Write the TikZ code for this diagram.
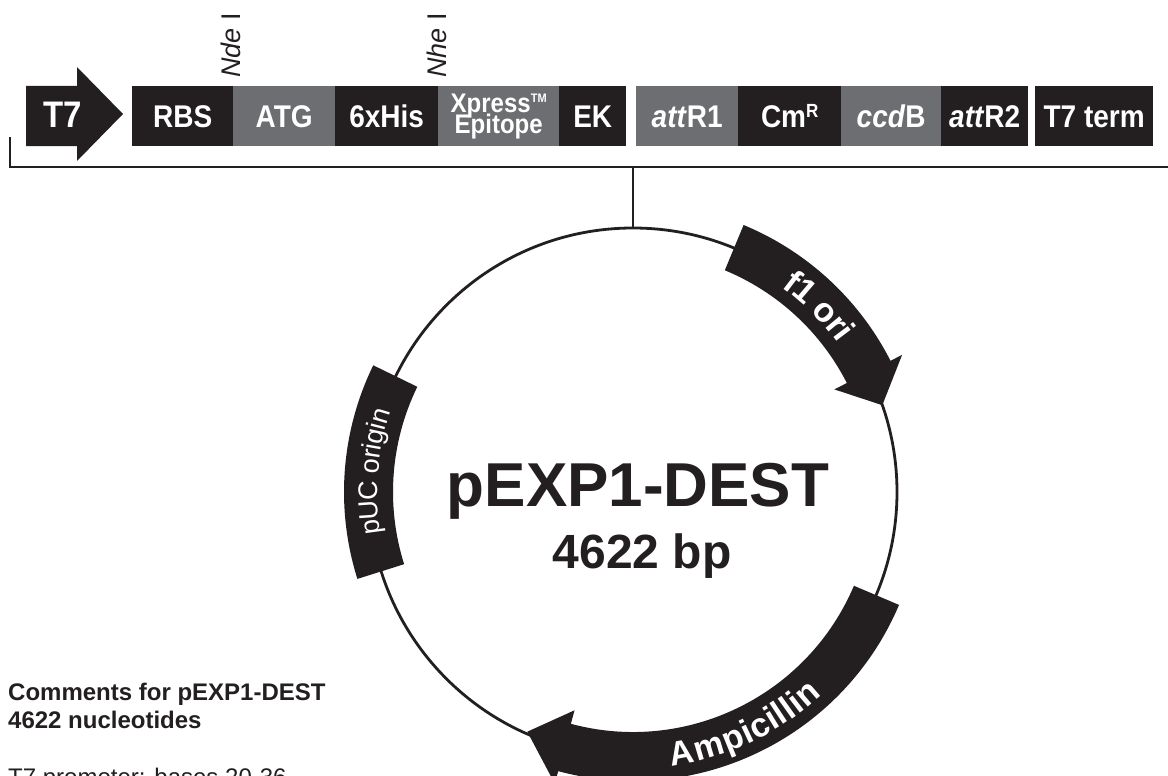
\documentclass[tikz,border=0pt]{standalone}
\usepackage{fontspec}
\usepackage{graphicx}
\setmainfont{Liberation Sans}
\usetikzlibrary{decorations.text}
\definecolor{dk}{HTML}{231F20}
\definecolor{gy}{HTML}{6D6E71}
\newcommand\fsz[1]{\fontsize{#1}{#1}\selectfont}
\newcommand\tall[1]{\scalebox{1}[1.12]{#1}}
\tikzset{
  box/.style={anchor=north west, minimum height=60pt, inner sep=0pt, text=white,
    font=\fsz{28}\bfseries, text height=22pt, text depth=0pt},
  dkbox/.style={box, fill=dk},
  gybox/.style={box, fill=gy},
  site/.style={rotate=90, anchor=west, inner sep=0pt, font=\fsz{27}, text=dk},
  thick line/.style={line width=2.8pt, draw=dk},
  band/.style={fill=dk},
}
\begin{document}
\begin{tikzpicture}[x=1pt,y=1pt]
\clip (0,0) rectangle (1168,-776);
\fill[white] (0,0) rectangle (1168,-776);

% T7 promoter arrow
\fill[dk] (26,-86) -- (77,-86) -- (77,-67) -- (123,-114) -- (77,-161) -- (77,-146) -- (26,-146) -- cycle;
\node[anchor=base, inner sep=0pt, text=white, font=\fsz{33}\bfseries] (t7) at (63,-128) {\tall{T7}};

% boxes
\node[dkbox, minimum width=101pt] (rbs) at (132,-86) {\tall{RBS}};
\node[gybox, minimum width=102pt] (atg) at (233,-86) {\tall{ATG}};
\node[dkbox, minimum width=103pt] (his) at (335,-86) {\tall{6xHis}};
\node[gybox, minimum width=121pt, text height=, text depth=, font=\fsz{24}\bfseries, align=center] (xpr) at (438,-86)
  {\tall{Xpress\raisebox{9pt}{\fsz{11}TM}}\\[-5pt]\tall{Epitope}};
\node[dkbox, minimum width=67pt] (ek) at (559,-86) {\tall{EK}};
\node[gybox, minimum width=102pt] (attr1) at (636,-86) {\tall{\textit{att}R1}};
\node[dkbox, minimum width=103pt] (cm) at (738,-86) {\tall{Cm\raisebox{9pt}{\fsz{17}R}}};
\node[gybox, minimum width=100pt] (ccdb) at (841,-86) {\tall{\textit{ccd}B}};
\node[dkbox, minimum width=87pt] (attr2) at (941,-86) {\tall{\textit{att}R2}};
\node[dkbox, minimum width=118pt] (t7t) at (1035,-86) {\tall{T7 term}};

% restriction sites
\node[site] (nde) at (231,-78) {\textit{Nde} I};
\node[site] (nhe) at (437,-78) {\textit{Nhe} I};

% bracket
\coordinate (bl) at (10,-137);
\coordinate (bc) at (10,-167);
\coordinate (br) at (1175,-167);
\coordinate (bm) at (633,-167);
\coordinate (ctop) at (633,-228);
\draw[thick line] (bl) -- (bc) -- (br);
\draw[thick line] (bm) -- (ctop);

% plasmid circle
\begin{scope}[shift={(633,-492)}]
  \draw[thick line] (0,0) circle[radius=264pt];
  % f1 ori
  \fill[band] (67.5:289) arc[start angle=67.5,end angle=27,radius=289pt] -- (27:302) -- (19.2:264)
     -- (27:226) -- (27:240) arc[start angle=27,end angle=67.5,radius=240pt] -- cycle;
  % Ampicillin
  \fill[band] (-23:289) arc[start angle=-23,end angle=-105,radius=289pt] -- (-105:302) -- (-113.8:262)
     -- (-105:226) -- (-105:240) arc[start angle=-105,end angle=-23,radius=240pt] -- cycle;
  % pUC origin
  \fill[band] (154:289) arc[start angle=154,end angle=197.5,radius=289pt]
     -- (197.5:240) arc[start angle=197.5,end angle=154,radius=240pt] -- cycle;
  % labels along arcs
  \path[decorate, decoration={text along path, text align=center, raise=-12pt,
     text={|\fsz{34}\bfseries\color{white}|f1 ori}}]
     (70:265) arc[start angle=70,end angle=20,radius=265pt];
  \path[decorate, decoration={text along path, text align=center, raise=-12pt,
     text={|\fsz{34}\bfseries\color{white}|Ampicillin}}]
     (-94.5:265) arc[start angle=-94.5,end angle=-34.5,radius=265pt];
  \path[decorate, decoration={text along path, text align=center, raise=-9.5pt,
     text={|\fsz{27}\color{white}|pUC origin}}]
     (200:265) arc[start angle=200,end angle=151,radius=265pt];
\end{scope}

% title
\node[anchor=base, inner sep=0pt, text=dk, font=\fsz{62}\bfseries] (title) at (638,-506) {pEXP1-DEST};
\node[anchor=base, inner sep=0pt, text=dk, font=\fsz{48}\bfseries] (size) at (642,-568) {4622 bp};

% comments
\node[anchor=base west, inner sep=0pt, text=dk, font=\fsz{24}\bfseries] (c1) at (8,-700) {Comments for pEXP1-DEST};
\node[anchor=base west, inner sep=0pt, text=dk, font=\fsz{24}\bfseries] (c2) at (8,-728) {4622 nucleotides};
\node[anchor=base west, inner sep=0pt, text=dk, font=\fsz{24}] (c3) at (8,-785) {T7 promoter: bases 20-36};
\end{tikzpicture}
\end{document}
